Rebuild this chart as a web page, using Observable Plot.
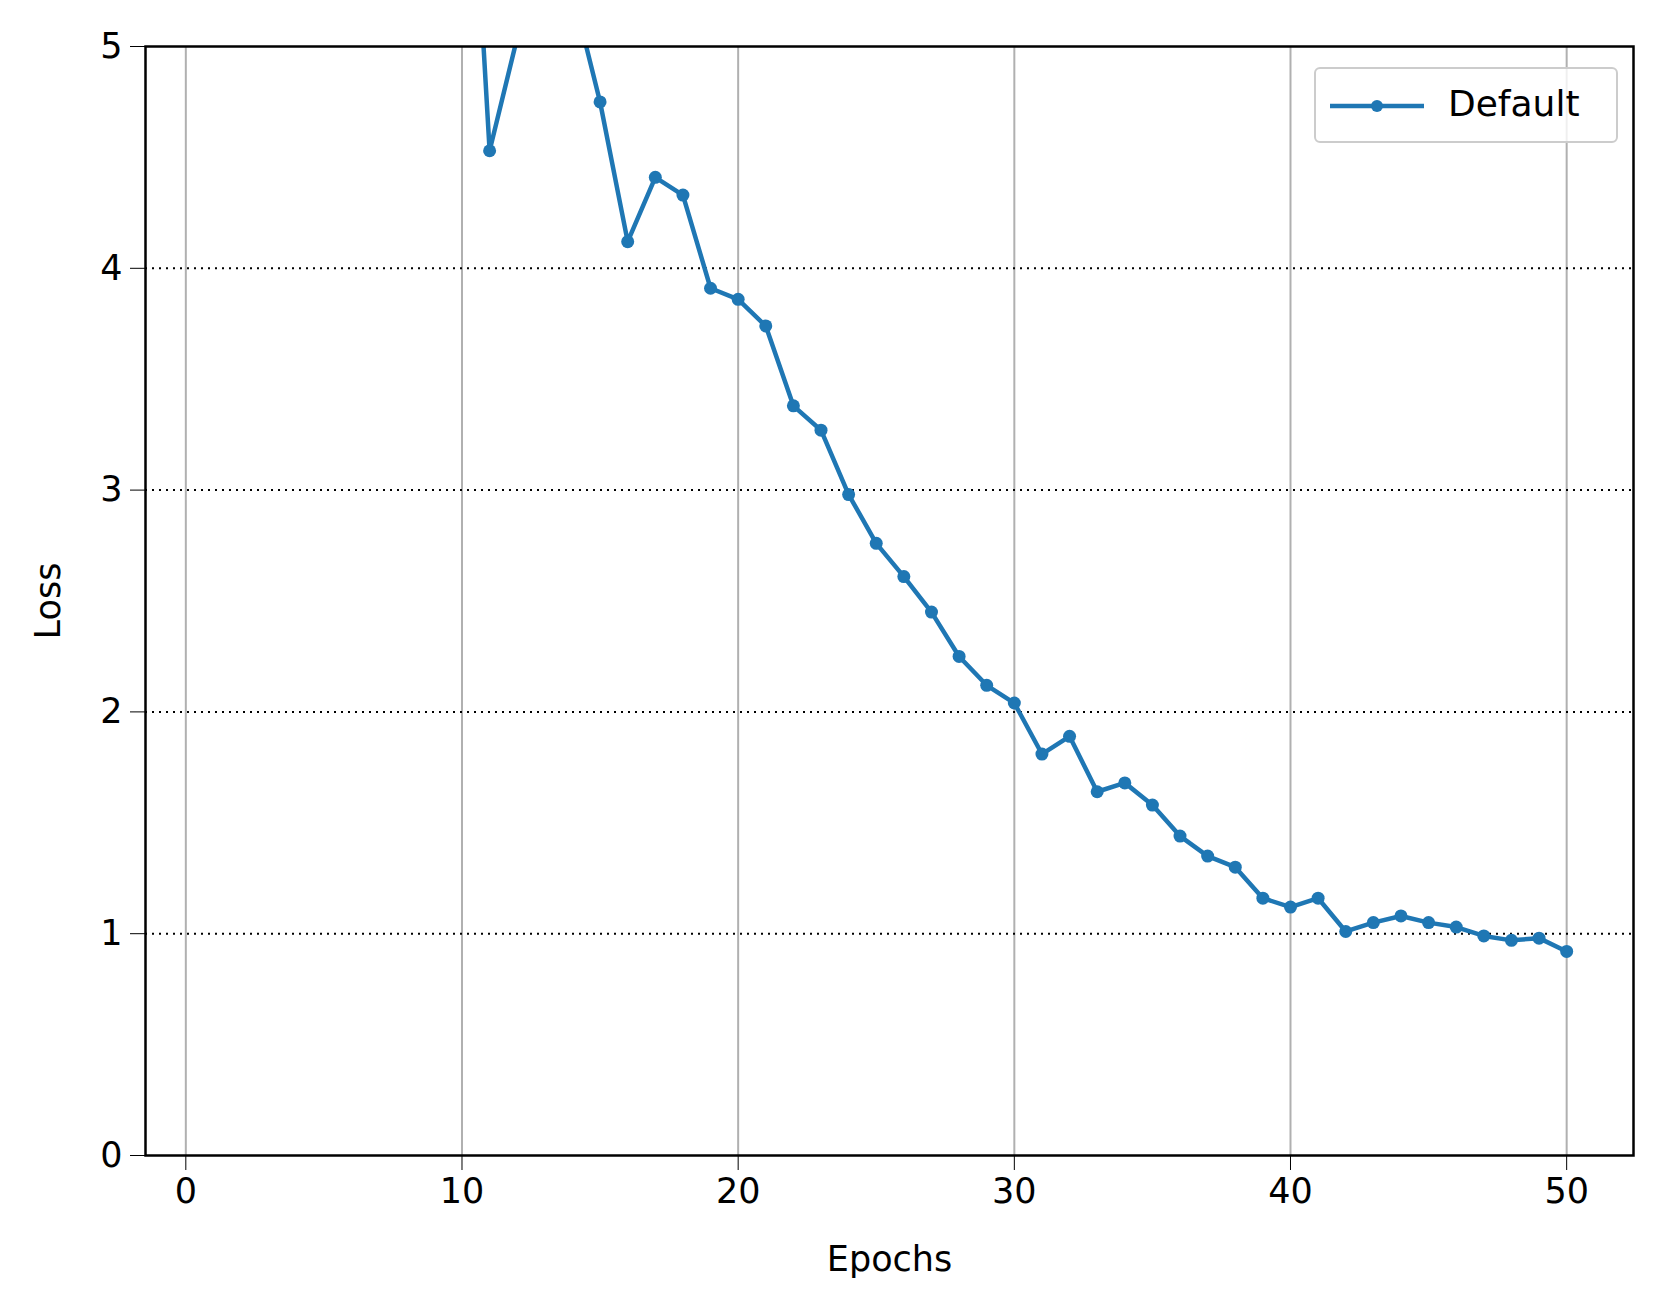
<!DOCTYPE html>
<html><head><meta charset="utf-8">
<script src="https://cdn.jsdelivr.net/npm/d3@7"></script>
<script src="https://cdn.jsdelivr.net/npm/@observablehq/plot@0.6"></script>
<style>
body{margin:0;background:#fff;font-family:"DejaVu Sans",sans-serif}
#wrap{position:relative;width:1662px;height:1315px}
#legend{position:absolute;left:1314px;top:67px;width:304px;height:76px;border:2px solid #ccc;border-radius:6px;background:rgba(255,255,255,.8);box-sizing:border-box}
#legend svg{position:absolute;left:12px;top:22px}
#legend span{position:absolute;left:132px;top:14px;font-size:36px}
</style></head><body>
<div id="wrap"><div id="chart"></div>
<div id="legend"><svg width="100" height="30"><line x1="2" y1="15" x2="96" y2="15" stroke="#1f77b4" stroke-width="4.5"/><circle cx="49" cy="15" r="6" fill="#1f77b4"/></svg><span>Default</span></div></div>
<script>
const epochs = d3.range(1, 51);
const loss = [60, 30, 20, 15, 12, 10, 9, 8, 7.5, 6.67,
  4.53, 5.04, 5.6, 5.25, 4.75, 4.12, 4.41, 4.33, 3.91, 3.86,
  3.74, 3.38, 3.27, 2.98, 2.76, 2.61, 2.45, 2.25, 2.12, 2.04,
  1.81, 1.89, 1.64, 1.68, 1.58, 1.44, 1.35, 1.30, 1.16, 1.12,
  1.16, 1.01, 1.05, 1.08, 1.05, 1.03, 0.99, 0.97, 0.98, 0.92];
const xTicks = [0, 10, 20, 30, 40, 50];
const yTicks = [0, 1, 2, 3, 4, 5];
const data = epochs.map((e, i) => ({epoch: e, loss: loss[i]}));

const chart = Plot.plot({
  width: 1662, height: 1315,
  marginLeft: 145, marginRight: 29, marginTop: 46, marginBottom: 160,
  style: {fontFamily: "DejaVu Sans", fontSize: "35px", color: "#000", background: "#fff"},
  x: {domain: [-1.46, 52.42], ticks: xTicks, tickFormat: d3.format("d"), tickSize: 15, tickPadding: 8, label: "Epochs", labelArrow: "none", labelAnchor: "center", labelOffset: 115},
  y: {domain: [0, 5], ticks: yTicks, tickFormat: d3.format("d"), tickSize: 15, tickPadding: 8, label: "Loss", labelArrow: "none", labelAnchor: "center", labelOffset: 110},
  marks: [
    Plot.ruleX(xTicks, {stroke: "#b0b0b0", strokeWidth: 2}),
    Plot.ruleY([1, 2, 3, 4], {stroke: "#000", strokeWidth: 2, strokeDasharray: "2,5"}),
    Plot.line(data, {x: "epoch", y: "loss", stroke: "#1f77b4", strokeWidth: 4.5, clip: true}),
    Plot.dot(data, {x: "epoch", y: "loss", fill: "#1f77b4", r: 6.5, clip: true}),
    Plot.frame({stroke: "#000", strokeWidth: 2.5})
  ]
});
d3.select("#chart").append(() => chart);
</script></body></html>
